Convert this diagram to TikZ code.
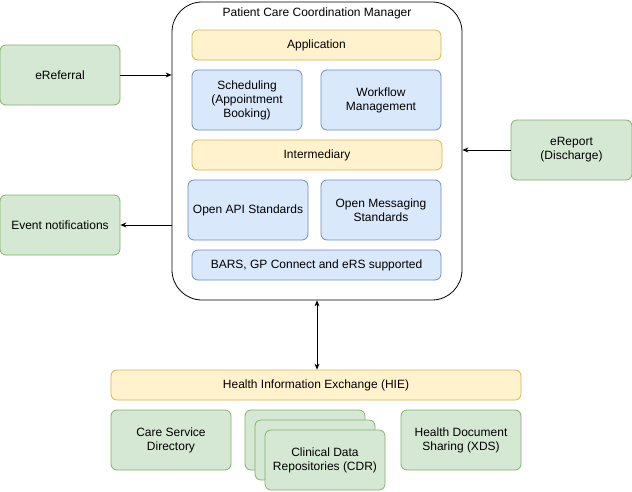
\documentclass[tikz,border=0pt]{standalone}
\usepackage{fontspec}
\setmainfont{Liberation Sans}
\usetikzlibrary{arrows.meta}
\definecolor{gf}{HTML}{D5E8D4}\definecolor{gs}{HTML}{82B366}
\definecolor{yf}{HTML}{FFF2CC}\definecolor{ys}{HTML}{D6B656}
\definecolor{bf}{HTML}{DAE8FC}\definecolor{bs}{HTML}{6C8EBF}
\begin{document}
\begin{tikzpicture}[x=1pt,y=-1pt,font=\fontsize{12}{14}\selectfont,
 box/.style={draw,rounded corners=6pt,align=center,inner sep=0pt,line width=0.8pt},
 green/.style={box,fill=gf,draw=gs},
 yellow/.style={box,fill=yf,draw=ys},
 blue/.style={box,fill=bf,draw=bs},
 arr/.style={-{Stealth[length=6pt,width=5pt]},line width=0.8pt}]
\useasboundingbox (0,0) rectangle (632,491);
\newcommand\bx[6]{\node[#1,minimum width=#4-#2,minimum height=#5-#3] (#6) at ({(#2+#4)/2},{(#3+#5)/2}) {};}
\node[draw,rounded corners=30pt,line width=0.8pt,minimum width=290,minimum height=298] (pccm) at (317,151) {};
\node (title) at (317,13) {Patient Care Coordination Manager};
\node[yellow,minimum width=249,minimum height=30] (app) at (316.5,45) {Application};
\node[blue,minimum width=110,minimum height=60] (sch) at (247,100) {Scheduling\\(Appointment\\Booking)};
\node[blue,minimum width=120,minimum height=60] (wf) at (381,100) {Workflow\\Management};
\node[yellow,minimum width=250,minimum height=30] (int) at (317,155) {Intermediary};
\node[blue,minimum width=120,minimum height=60] (api) at (248,210) {Open API Standards};
\node[blue,minimum width=120,minimum height=60] (msg) at (381,210) {Open Messaging\\Standards};
\node[blue,minimum width=249,minimum height=30] (bars) at (316.5,265) {BARS, GP Connect and eRS supported};
\node[green,minimum width=120,minimum height=60] (eref) at (60,75) {eReferral};
\node[green,minimum width=121,minimum height=60] (erep) at (571.5,150) {eReport\\(Discharge)};
\node[green,minimum width=120,minimum height=60] (ev) at (60,225) {Event notifications};
\node[yellow,minimum width=410,minimum height=30] (hie) at (316,385) {Health Information Exchange (HIE)};
\node[green,minimum width=120,minimum height=60] (csd) at (171,440) {Care Service\\Directory};
\node[green,minimum width=120,minimum height=60] (c1) at (305,440) {};
\node[green,minimum width=120,minimum height=60] (c2) at (315,450) {};
\node[green,minimum width=120,minimum height=60] (cdr) at (325,460) {Clinical Data\\Repositories (CDR)};
\node[green,minimum width=120,minimum height=60] (xds) at (461,440) {Health Document\\Sharing (XDS)};
\draw[arr] (eref.east) -- (eref.east -| pccm.west);
\draw[arr] (erep.west) -- (erep.west -| pccm.east);
\draw[arr] (ev.east -| pccm.west) -- (ev.east);
\draw[arr,{Stealth[length=6pt,width=5pt]}-{Stealth[length=6pt,width=5pt]}] (pccm.south) -- (hie.north -| pccm.south);
\end{tikzpicture}
\end{document}
